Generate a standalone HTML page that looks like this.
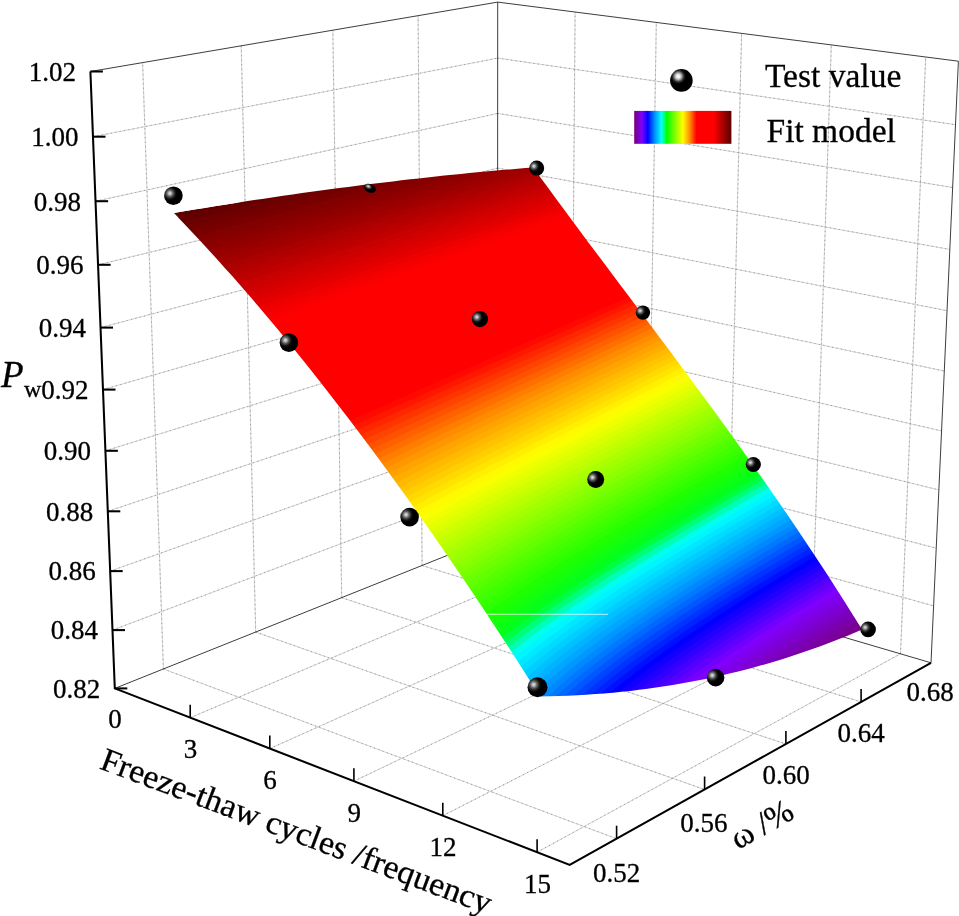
<!DOCTYPE html>
<html><head><meta charset="utf-8"><title>Fit model</title>
<style>
html,body{margin:0;padding:0;background:#fff}
svg{display:block}
.g{stroke:#cfcfcf;stroke-width:.9}
.h{stroke:#959595;stroke-width:.9;stroke-dasharray:1.2 3.3}
.e{stroke:#333;stroke-width:.95}
.a{stroke:#000;stroke-width:2.05;stroke-linejoin:miter}
.t{stroke:#000;stroke-width:1.6}
text{font-family:"Liberation Serif",serif;fill:#000;stroke:#000;stroke-width:.3px}
.n{font-size:27px}
.P{font-size:37px;font-style:italic}
.w{font-size:24px}
.ti{font-size:33px}
.lg{font-size:33.5px}
</style></head><body>
<svg width="959" height="916" viewBox="0 0 959 916">
<defs>
<radialGradient id="sg" cx=".31" cy=".37" r=".5"><stop offset="0" stop-color="#e6e6e6"/><stop offset=".14" stop-color="#bdbdbd"/><stop offset=".36" stop-color="#5a5a5a"/><stop offset=".6" stop-color="#141414"/><stop offset=".78" stop-color="#000"/><stop offset="1" stop-color="#000"/></radialGradient>
<radialGradient id="sgl" cx=".36" cy=".32" r=".6"><stop offset="0" stop-color="#fff"/><stop offset=".13" stop-color="#ededed"/><stop offset=".27" stop-color="#9a9a9a"/><stop offset=".42" stop-color="#2c2c2c"/><stop offset=".56" stop-color="#000"/><stop offset="1" stop-color="#000"/></radialGradient>
<linearGradient id="cb" x1="0" x2="1" y1="0" y2="0"><stop offset="0.000" stop-color="#78007a"/><stop offset="0.080" stop-color="#8000ff"/><stop offset="0.140" stop-color="#0000ff"/><stop offset="0.210" stop-color="#0090ff"/><stop offset="0.280" stop-color="#00ffff"/><stop offset="0.335" stop-color="#00ff00"/><stop offset="0.500" stop-color="#ffff00"/><stop offset="0.570" stop-color="#ff9000"/><stop offset="0.640" stop-color="#ff0000"/><stop offset="0.820" stop-color="#ff0000"/><stop offset="0.920" stop-color="#a00000"/><stop offset="1.000" stop-color="#5c0000"/></linearGradient>
</defs>
<rect width="959" height="916" fill="#fff"/>
<g><line x1="163.4" y1="669.0" x2="142.6" y2="62.6" class="g"/><line x1="163.4" y1="669.0" x2="616.6" y2="838.7" class="g"/><line x1="255.7" y1="632.1" x2="241.2" y2="45.8" class="g"/><line x1="255.7" y1="632.1" x2="704.6" y2="789.5" class="g"/><line x1="341.7" y1="597.7" x2="332.8" y2="30.2" class="g"/><line x1="341.7" y1="597.7" x2="785.9" y2="744.0" class="g"/><line x1="422.1" y1="565.5" x2="418.1" y2="15.7" class="g"/><line x1="422.1" y1="565.5" x2="861.1" y2="701.9" class="g"/><line x1="570.8" y1="556.9" x2="575.1" y2="12.0" class="g"/><line x1="190.2" y1="717.7" x2="570.8" y2="556.9" class="g"/><line x1="647.4" y1="579.4" x2="656.3" y2="22.5" class="g"/><line x1="269.8" y1="748.6" x2="647.4" y2="579.4" class="g"/><line x1="727.7" y1="603.0" x2="741.6" y2="33.4" class="g"/><line x1="353.9" y1="781.2" x2="727.7" y2="603.0" class="g"/><line x1="812.0" y1="627.8" x2="831.3" y2="44.9" class="g"/><line x1="442.8" y1="815.7" x2="812.0" y2="627.8" class="g"/><line x1="900.5" y1="653.8" x2="925.7" y2="57.0" class="g"/><line x1="537.1" y1="852.2" x2="900.5" y2="653.8" class="g"/><line x1="112.5" y1="630.1" x2="497.5" y2="484.5" class="g"/><line x1="497.5" y1="484.5" x2="933.6" y2="605.9" class="g"/><line x1="110.2" y1="571.1" x2="497.5" y2="433.2" class="g"/><line x1="497.5" y1="433.2" x2="936.2" y2="548.2" class="g"/><line x1="107.8" y1="511.3" x2="497.6" y2="381.3" class="g"/><line x1="497.6" y1="381.3" x2="938.8" y2="489.9" class="g"/><line x1="105.4" y1="450.8" x2="497.6" y2="328.8" class="g"/><line x1="497.6" y1="328.8" x2="941.5" y2="430.9" class="g"/><line x1="103.0" y1="389.6" x2="497.6" y2="275.8" class="g"/><line x1="497.6" y1="275.8" x2="944.3" y2="371.1" class="g"/><line x1="100.5" y1="327.6" x2="497.6" y2="222.3" class="g"/><line x1="497.6" y1="222.3" x2="947.0" y2="310.7" class="g"/><line x1="98.1" y1="264.8" x2="497.7" y2="168.1" class="g"/><line x1="497.7" y1="168.1" x2="949.8" y2="249.4" class="g"/><line x1="95.6" y1="201.2" x2="497.7" y2="113.4" class="g"/><line x1="497.7" y1="113.4" x2="952.6" y2="187.5" class="g"/><line x1="93.0" y1="136.7" x2="497.7" y2="58.1" class="g"/><line x1="497.7" y1="58.1" x2="955.5" y2="124.7" class="g"/><line x1="163.4" y1="669.0" x2="142.6" y2="62.6" class="h"/><line x1="163.4" y1="669.0" x2="616.6" y2="838.7" class="h"/><line x1="255.7" y1="632.1" x2="241.2" y2="45.8" class="h"/><line x1="255.7" y1="632.1" x2="704.6" y2="789.5" class="h"/><line x1="341.7" y1="597.7" x2="332.8" y2="30.2" class="h"/><line x1="341.7" y1="597.7" x2="785.9" y2="744.0" class="h"/><line x1="422.1" y1="565.5" x2="418.1" y2="15.7" class="h"/><line x1="422.1" y1="565.5" x2="861.1" y2="701.9" class="h"/><line x1="570.8" y1="556.9" x2="575.1" y2="12.0" class="h"/><line x1="190.2" y1="717.7" x2="570.8" y2="556.9" class="h"/><line x1="647.4" y1="579.4" x2="656.3" y2="22.5" class="h"/><line x1="269.8" y1="748.6" x2="647.4" y2="579.4" class="h"/><line x1="727.7" y1="603.0" x2="741.6" y2="33.4" class="h"/><line x1="353.9" y1="781.2" x2="727.7" y2="603.0" class="h"/><line x1="812.0" y1="627.8" x2="831.3" y2="44.9" class="h"/><line x1="442.8" y1="815.7" x2="812.0" y2="627.8" class="h"/><line x1="900.5" y1="653.8" x2="925.7" y2="57.0" class="h"/><line x1="537.1" y1="852.2" x2="900.5" y2="653.8" class="h"/><line x1="112.5" y1="630.1" x2="497.5" y2="484.5" class="h"/><line x1="497.5" y1="484.5" x2="933.6" y2="605.9" class="h"/><line x1="110.2" y1="571.1" x2="497.5" y2="433.2" class="h"/><line x1="497.5" y1="433.2" x2="936.2" y2="548.2" class="h"/><line x1="107.8" y1="511.3" x2="497.6" y2="381.3" class="h"/><line x1="497.6" y1="381.3" x2="938.8" y2="489.9" class="h"/><line x1="105.4" y1="450.8" x2="497.6" y2="328.8" class="h"/><line x1="497.6" y1="328.8" x2="941.5" y2="430.9" class="h"/><line x1="103.0" y1="389.6" x2="497.6" y2="275.8" class="h"/><line x1="497.6" y1="275.8" x2="944.3" y2="371.1" class="h"/><line x1="100.5" y1="327.6" x2="497.6" y2="222.3" class="h"/><line x1="497.6" y1="222.3" x2="947.0" y2="310.7" class="h"/><line x1="98.1" y1="264.8" x2="497.7" y2="168.1" class="h"/><line x1="497.7" y1="168.1" x2="949.8" y2="249.4" class="h"/><line x1="95.6" y1="201.2" x2="497.7" y2="113.4" class="h"/><line x1="497.7" y1="113.4" x2="952.6" y2="187.5" class="h"/><line x1="93.0" y1="136.7" x2="497.7" y2="58.1" class="h"/><line x1="497.7" y1="58.1" x2="955.5" y2="124.7" class="h"/></g>
<g><line x1="90.4" y1="71.5" x2="497.7" y2="2.1" class="e"/><line x1="497.7" y1="2.1" x2="958.4" y2="61.2" class="e"/><line x1="497.5" y1="535.3" x2="497.7" y2="2.1" class="e"/><line x1="931.0" y1="662.8" x2="958.4" y2="61.2" class="e"/><line x1="114.8" y1="688.4" x2="497.5" y2="535.3" class="e"/><line x1="497.5" y1="535.3" x2="931.0" y2="662.8" class="e"/></g>
<mask id="sc" maskUnits="userSpaceOnUse" x="0" y="0" width="959" height="916"><path fill="#fff" d="M173.8 213.0L184.1 211.3L194.4 209.6L204.5 207.9L214.6 206.3L224.6 204.7L234.5 203.2L244.4 201.6L254.2 200.1L263.9 198.7L273.5 197.2L283.1 195.8L292.6 194.5L302.0 193.1L311.4 191.8L320.7 190.5L329.9 189.3L339.1 188.1L348.2 186.9L357.2 185.7L366.2 184.6L375.1 183.5L384.0 182.4L392.8 181.4L401.5 180.3L410.2 179.3L418.8 178.4L427.3 177.4L435.8 176.5L444.2 175.6L452.6 174.8L460.9 173.9L469.2 173.1L477.4 172.3L485.5 171.5L493.6 170.8L501.7 170.1L509.6 169.4L517.6 168.7L525.4 168.1L533.3 167.5L541.0 178.2L548.8 188.8L556.6 199.5L564.4 210.1L572.3 220.7L580.1 231.3L588.0 241.9L596.0 252.5L603.9 263.1L611.9 273.7L619.9 284.4L627.9 295.1L635.9 305.8L644.0 316.5L652.1 327.3L660.2 338.2L668.4 349.1L676.5 360.0L684.7 371.1L692.9 382.2L701.2 393.4L709.4 404.6L717.7 416.0L726.1 427.5L734.4 439.1L742.7 450.7L751.1 462.6L759.5 474.5L768.0 486.5L776.4 498.7L784.9 511.1L793.4 523.6L801.9 536.2L810.4 549.0L819.0 562.0L827.6 575.1L836.2 588.5L844.8 602.0L853.4 615.7L862.1 629.5L855.1 632.5L848.2 635.4L841.1 638.3L834.0 641.1L826.9 643.8L819.7 646.5L812.5 649.1L805.2 651.6L797.9 654.1L790.5 656.6L783.0 658.9L775.5 661.2L768.0 663.4L760.4 665.6L752.7 667.7L745.0 669.8L737.2 671.7L729.4 673.6L721.5 675.5L713.5 677.2L705.5 678.9L697.4 680.5L689.3 682.1L681.1 683.6L672.8 685.0L664.4 686.3L656.0 687.6L647.6 688.7L639.0 689.8L630.4 690.9L621.7 691.8L612.9 692.7L604.1 693.4L595.1 694.1L586.1 694.7L577.1 695.3L567.9 695.7L558.7 696.1L549.4 696.3L540.0 696.5L530.1 681.0L520.3 665.6L510.5 650.3L500.7 635.3L491.0 620.5L481.3 605.8L471.6 591.3L462.0 577.0L452.4 562.9L442.8 549.0L433.3 535.3L423.8 521.7L414.4 508.3L405.0 495.1L395.6 482.1L386.3 469.2L377.0 456.6L367.7 444.1L358.5 431.8L349.3 419.6L340.2 407.7L331.1 395.9L322.0 384.3L313.0 372.8L304.0 361.6L295.1 350.5L286.1 339.5L277.3 328.8L268.4 318.2L259.6 307.8L250.9 297.6L242.2 287.5L233.5 277.6L224.8 267.9L216.2 258.3L207.7 249.0L199.2 239.7L190.7 230.7L182.2 221.8Z"/></mask>
<g mask="url(#sc)"><path d="M173.8 213.0L184.1 211.3L194.4 209.6L204.5 207.9L214.6 206.3L224.6 204.7L234.5 203.2L244.4 201.6L254.2 200.1L263.9 198.7L273.5 197.2L283.1 195.8L292.6 194.5L302.0 193.1L311.4 191.8L320.7 190.5L329.9 189.3L339.1 188.1L348.2 186.9L357.2 185.7L366.2 184.6L375.1 183.5L384.0 182.4L392.8 181.4L401.5 180.3L410.2 179.3L418.8 178.4L427.3 177.4L435.8 176.5L444.2 175.6L452.6 174.8L460.9 173.9L469.2 173.1L477.4 172.3L485.5 171.5L493.6 170.8L501.7 170.1L509.6 169.4L517.6 168.7L525.4 168.1L533.3 167.5L541.0 178.2L548.8 188.8L556.6 199.5L564.4 210.1L572.3 220.7L580.1 231.3L588.0 241.9L596.0 252.5L603.9 263.1L611.9 273.7L619.9 284.4L627.9 295.1L635.9 305.8L644.0 316.5L652.1 327.3L660.2 338.2L668.4 349.1L676.5 360.0L684.7 371.1L692.9 382.2L701.2 393.4L709.4 404.6L717.7 416.0L726.1 427.5L734.4 439.1L742.7 450.7L751.1 462.6L759.5 474.5L768.0 486.5L776.4 498.7L784.9 511.1L793.4 523.6L801.9 536.2L810.4 549.0L819.0 562.0L827.6 575.1L836.2 588.5L844.8 602.0L853.4 615.7L862.1 629.5L855.1 632.5L848.2 635.4L841.1 638.3L834.0 641.1L826.9 643.8L819.7 646.5L812.5 649.1L805.2 651.6L797.9 654.1L790.5 656.6L783.0 658.9L775.5 661.2L768.0 663.4L760.4 665.6L752.7 667.7L745.0 669.8L737.2 671.7L729.4 673.6L721.5 675.5L713.5 677.2L705.5 678.9L697.4 680.5L689.3 682.1L681.1 683.6L672.8 685.0L664.4 686.3L656.0 687.6L647.6 688.7L639.0 689.8L630.4 690.9L621.7 691.8L612.9 692.7L604.1 693.4L595.1 694.1L586.1 694.7L577.1 695.3L567.9 695.7L558.7 696.1L549.4 696.3L540.0 696.5L530.1 681.0L520.3 665.6L510.5 650.3L500.7 635.3L491.0 620.5L481.3 605.8L471.6 591.3L462.0 577.0L452.4 562.9L442.8 549.0L433.3 535.3L423.8 521.7L414.4 508.3L405.0 495.1L395.6 482.1L386.3 469.2L377.0 456.6L367.7 444.1L358.5 431.8L349.3 419.6L340.2 407.7L331.1 395.9L322.0 384.3L313.0 372.8L304.0 361.6L295.1 350.5L286.1 339.5L277.3 328.8L268.4 318.2L259.6 307.8L250.9 297.6L242.2 287.5L233.5 277.6L224.8 267.9L216.2 258.3L207.7 249.0L199.2 239.7L190.7 230.7L182.2 221.8Z" fill="#5c0000"/><path d="M154.7 223.3L179.0 217.3L202.8 211.3L226.1 205.5L248.9 199.7L271.2 194.1L293.1 188.6L314.5 183.1L335.6 177.8L356.2 172.6L376.5 167.4L396.3 162.4L415.9 157.4L435.0 152.5L453.9 147.7L472.4 143.0L490.6 138.4L508.5 133.8L527.3 131.2L1100.0 131.2L1100.0 1100.0L-100.0 1100.0L-100.0 223.3Z" fill="#660000"/><path d="M159.3 228.1L183.5 221.9L207.1 215.9L230.3 210.0L252.9 204.2L275.1 198.5L296.9 192.9L318.2 187.4L339.1 182.0L359.6 176.7L379.8 171.5L399.5 166.3L419.0 161.3L438.0 156.4L456.8 151.5L475.2 146.8L493.3 142.1L511.1 137.5L528.6 133.0L1100.0 133.0L1100.0 1100.0L-100.0 1100.0L-100.0 228.1Z" fill="#6d0000"/><path d="M163.9 232.8L187.9 226.6L211.4 220.5L234.4 214.5L257.0 208.6L279.0 202.9L300.7 197.2L321.9 191.6L342.7 186.2L363.1 180.8L383.1 175.5L402.8 170.4L422.1 165.3L441.0 160.3L459.7 155.4L478.0 150.6L496.0 145.8L513.7 141.2L531.1 136.6L1100.0 136.6L1100.0 1100.0L-100.0 1100.0L-100.0 232.8Z" fill="#730000"/><path d="M168.5 237.6L192.3 231.3L215.7 225.1L238.6 219.1L261.0 213.1L282.9 207.2L304.4 201.5L325.5 195.9L346.2 190.3L366.5 184.9L386.4 179.6L406.0 174.4L425.2 169.2L444.0 164.2L462.6 159.2L480.8 154.4L498.7 149.6L516.3 144.9L533.7 140.3L1100.0 140.3L1100.0 1100.0L-100.0 1100.0L-100.0 237.6Z" fill="#7a0000"/><path d="M173.0 242.4L196.7 236.0L220.0 229.7L242.7 223.6L265.0 217.6L286.8 211.6L308.2 205.8L329.2 200.1L349.7 194.5L369.9 189.1L389.7 183.7L409.2 178.4L428.3 173.2L447.0 168.1L465.5 163.1L483.6 158.2L501.4 153.3L519.0 148.6L536.2 143.9L1100.0 143.9L1100.0 1100.0L-100.0 1100.0L-100.0 242.4Z" fill="#810000"/><path d="M177.5 247.1L201.1 240.7L224.2 234.3L246.8 228.1L269.0 222.0L290.7 216.0L312.0 210.2L332.8 204.4L353.3 198.7L373.4 193.2L393.1 187.7L412.4 182.4L431.4 177.1L450.1 172.0L468.4 166.9L486.4 162.0L504.2 157.1L521.6 152.3L538.8 147.6L1100.0 147.6L1100.0 1100.0L-100.0 1100.0L-100.0 247.1Z" fill="#870000"/><path d="M181.9 251.9L205.4 245.4L228.4 238.9L250.9 232.7L273.0 226.5L294.6 220.4L315.7 214.5L336.5 208.7L356.8 202.9L376.8 197.3L396.4 191.8L415.6 186.4L434.5 181.1L453.1 175.9L471.3 170.8L489.3 165.8L506.9 160.9L524.3 156.0L541.4 151.3L1100.0 151.3L1100.0 1100.0L-100.0 1100.0L-100.0 251.9Z" fill="#8e0000"/><path d="M186.3 256.7L209.7 250.0L232.6 243.6L255.0 237.2L276.9 231.0L298.4 224.8L319.5 218.8L340.1 212.9L360.4 207.1L380.2 201.5L399.7 195.9L418.9 190.4L437.7 185.1L456.1 179.8L474.3 174.7L492.1 169.6L509.7 164.6L527.0 159.7L543.9 154.9L1100.0 154.9L1100.0 1100.0L-100.0 1100.0L-100.0 256.7Z" fill="#940000"/><path d="M190.7 261.4L214.0 254.7L236.8 248.2L259.1 241.7L280.9 235.4L302.3 229.2L323.2 223.2L343.8 217.2L363.9 211.4L383.7 205.6L403.1 200.0L422.1 194.5L440.8 189.1L459.2 183.8L477.2 178.5L495.0 173.4L512.5 168.4L529.6 163.5L546.5 158.6L1100.0 158.6L1100.0 1100.0L-100.0 1100.0L-100.0 261.4Z" fill="#9b0000"/><path d="M195.1 266.2L218.3 259.4L240.9 252.8L263.1 246.3L284.8 239.9L306.1 233.6L327.0 227.5L347.4 221.5L367.4 215.6L387.1 209.8L406.4 204.1L425.3 198.5L444.0 193.1L462.2 187.7L480.2 182.4L497.9 177.2L515.2 172.2L532.3 167.2L549.1 162.3L1100.0 162.3L1100.0 1100.0L-100.0 1100.0L-100.0 266.2Z" fill="#a20000"/><path d="M199.4 271.0L222.5 264.1L245.0 257.4L267.1 250.8L288.7 244.4L309.9 238.1L330.7 231.9L351.0 225.8L371.0 219.8L390.5 213.9L409.7 208.2L428.6 202.6L447.1 197.0L465.3 191.6L483.2 186.3L500.7 181.1L518.0 176.0L535.0 170.9L551.8 166.0L1100.0 166.0L1100.0 1100.0L-100.0 1100.0L-100.0 271.0Z" fill="#a90000"/><path d="M203.7 275.7L226.7 268.8L249.1 262.0L271.1 255.4L292.7 248.9L313.7 242.5L334.4 236.2L354.6 230.1L374.5 224.0L394.0 218.1L413.1 212.3L431.8 206.6L450.3 201.0L468.4 195.6L486.1 190.2L503.6 184.9L520.8 179.7L537.7 174.7L554.4 169.7L1100.0 169.7L1100.0 1100.0L-100.0 1100.0L-100.0 275.7Z" fill="#b10000"/><path d="M208.0 280.5L230.9 273.5L253.2 266.7L275.1 259.9L296.5 253.4L317.5 246.9L338.1 240.6L358.3 234.4L378.0 228.3L397.4 222.3L416.4 216.4L435.1 210.7L453.4 205.0L471.4 199.5L489.1 194.1L506.5 188.8L523.6 183.5L540.5 178.4L557.0 173.4L1100.0 173.4L1100.0 1100.0L-100.0 1100.0L-100.0 280.5Z" fill="#b80000"/><path d="M212.3 285.3L235.0 278.2L257.3 271.3L279.1 264.5L300.4 257.8L321.3 251.3L341.8 244.9L361.9 238.7L381.5 232.5L400.8 226.5L419.8 220.5L438.3 214.7L456.6 209.0L474.5 203.5L492.1 198.0L509.4 192.6L526.4 187.3L543.2 182.2L559.7 177.1L1100.0 177.1L1100.0 1100.0L-100.0 1100.0L-100.0 285.3Z" fill="#c00000"/><path d="M216.5 290.1L239.2 282.9L261.3 275.9L283.0 269.1L304.3 262.3L325.1 255.8L345.5 249.3L365.5 243.0L385.0 236.7L404.2 230.6L423.1 224.7L441.6 218.8L459.7 213.1L477.6 207.4L495.1 201.9L512.3 196.5L529.3 191.1L545.9 185.9L562.3 180.8L1100.0 180.8L1100.0 1100.0L-100.0 1100.0L-100.0 290.1Z" fill="#c70000"/><path d="M220.7 294.8L243.3 287.6L265.4 280.6L287.0 273.6L308.1 266.8L328.9 260.2L349.2 253.7L369.1 247.3L388.6 241.0L407.7 234.8L426.4 228.8L444.8 222.9L462.9 217.1L480.7 211.4L498.1 205.8L515.2 200.3L532.1 194.9L548.7 189.7L565.0 184.5L1100.0 184.5L1100.0 1100.0L-100.0 1100.0L-100.0 294.8Z" fill="#ce0000"/><path d="M224.9 299.6L247.4 292.3L269.4 285.2L290.9 278.2L312.0 271.3L332.6 264.6L352.8 258.0L372.6 251.6L392.1 245.2L411.1 239.0L429.8 232.9L448.1 227.0L466.1 221.1L483.7 215.4L501.1 209.7L518.2 204.2L534.9 198.8L551.4 193.4L567.7 188.2L1100.0 188.2L1100.0 1100.0L-100.0 1100.0L-100.0 299.6Z" fill="#d60000"/><path d="M229.0 304.4L251.4 297.0L273.3 289.8L294.8 282.8L315.8 275.8L336.4 269.1L356.5 262.4L376.2 255.9L395.6 249.5L414.5 243.2L433.1 237.1L451.3 231.0L469.3 225.1L486.8 219.3L504.1 213.6L521.1 208.1L537.8 202.6L554.2 197.2L570.4 191.9L1100.0 191.9L1100.0 1100.0L-100.0 1100.0L-100.0 304.4Z" fill="#dd0000"/><path d="M233.1 309.2L255.5 301.7L277.3 294.5L298.7 287.3L319.6 280.3L340.1 273.5L360.1 266.8L379.8 260.2L399.0 253.7L417.9 247.4L436.4 241.2L454.6 235.1L472.4 229.2L489.9 223.3L507.1 217.6L524.0 211.9L540.6 206.4L557.0 201.0L573.1 195.7L1100.0 195.7L1100.0 1100.0L-100.0 1100.0L-100.0 309.2Z" fill="#e50000"/><path d="M237.2 314.0L259.5 306.5L281.2 299.1L302.5 291.9L323.4 284.9L343.8 277.9L363.8 271.2L383.4 264.5L402.5 258.0L421.3 251.6L439.8 245.4L457.9 239.2L475.6 233.2L493.0 227.3L510.1 221.5L527.0 215.8L543.5 210.2L559.8 204.8L575.8 199.4L1100.0 199.4L1100.0 1100.0L-100.0 1100.0L-100.0 314.0Z" fill="#ec0000"/><path d="M241.3 318.7L263.5 311.2L285.2 303.8L306.4 296.5L327.2 289.4L347.5 282.4L367.4 275.6L386.9 268.8L406.0 262.3L424.7 255.8L443.1 249.5L461.1 243.3L478.8 237.2L496.1 231.3L513.2 225.4L529.9 219.7L546.4 214.1L562.6 208.5L578.5 203.1L1100.0 203.1L1100.0 1100.0L-100.0 1100.0L-100.0 318.7Z" fill="#f40000"/><path d="M245.4 323.5L267.5 315.9L289.1 308.4L310.2 301.1L330.9 293.9L351.2 286.8L371.0 279.9L390.4 273.2L409.5 266.5L428.1 260.0L446.4 253.7L464.4 247.4L482.0 241.3L499.2 235.3L516.2 229.4L532.9 223.6L549.2 217.9L565.4 212.3L581.2 206.9L1100.0 206.9L1100.0 1100.0L-100.0 1100.0L-100.0 323.5Z" fill="#fb0000"/><path d="M249.4 328.3L271.4 320.6L293.0 313.1L314.0 305.7L334.7 298.4L354.9 291.3L374.6 284.3L394.0 277.5L413.0 270.8L431.5 264.3L449.8 257.8L467.6 251.5L485.1 245.3L502.3 239.3L519.2 233.3L535.8 227.5L552.1 221.7L568.2 216.1L583.9 210.6L1100.0 210.6L1100.0 1100.0L-100.0 1100.0L-100.0 328.3Z" fill="#ff0000"/><path d="M253.5 333.1L275.4 325.3L296.8 317.7L317.8 310.2L338.4 302.9L358.5 295.8L378.2 288.7L397.5 281.8L416.4 275.1L434.9 268.5L453.1 262.0L470.9 255.6L488.3 249.4L505.5 243.3L522.3 237.3L538.8 231.4L555.0 225.6L571.0 219.9L586.7 214.4L1100.0 214.4L1100.0 1100.0L-100.0 1100.0L-100.0 333.1Z" fill="#ff0000"/><path d="M257.5 337.9L279.3 330.1L300.7 322.4L321.6 314.8L342.1 307.4L362.2 300.2L381.8 293.1L401.0 286.2L419.9 279.4L438.3 272.7L456.4 266.2L474.1 259.7L491.5 253.4L508.6 247.3L525.3 241.2L541.8 235.3L557.9 229.4L573.8 223.7L589.4 218.1L1100.0 218.1L1100.0 1100.0L-100.0 1100.0L-100.0 337.9Z" fill="#ff0000"/><path d="M261.4 342.7L283.2 334.8L304.5 327.0L325.4 319.4L345.8 312.0L365.8 304.7L385.4 297.5L404.5 290.5L423.3 283.7L441.7 276.9L459.7 270.3L477.4 263.9L494.7 257.5L511.7 251.3L528.4 245.2L544.7 239.2L560.8 233.3L576.6 227.5L592.2 221.9L1100.0 221.9L1100.0 1100.0L-100.0 1100.0L-100.0 342.7Z" fill="#ff0000"/><path d="M265.4 347.5L287.1 339.5L308.4 331.7L329.2 324.0L349.5 316.5L369.4 309.1L388.9 301.9L408.0 294.9L426.7 288.0L445.1 281.2L463.0 274.5L480.6 268.0L497.9 261.6L514.8 255.3L531.4 249.1L547.7 243.1L563.7 237.2L579.5 231.4L594.9 225.6L1100.0 225.6L1100.0 1100.0L-100.0 1100.0L-100.0 347.5Z" fill="#ff0000"/><path d="M269.3 352.3L291.0 344.2L312.2 336.3L332.9 328.6L353.2 321.0L373.0 313.6L392.5 306.3L411.5 299.2L430.2 292.2L448.4 285.4L466.3 278.7L483.9 272.1L501.1 265.6L517.9 259.3L534.5 253.1L550.7 247.0L566.6 241.0L582.3 235.2L597.7 229.4L1100.0 229.4L1100.0 1100.0L-100.0 1100.0L-100.0 352.3Z" fill="#ff0000"/><path d="M273.3 357.1L294.8 349.0L315.9 341.0L336.6 333.2L356.8 325.6L376.6 318.1L396.0 310.8L415.0 303.6L433.6 296.5L451.8 289.6L469.6 282.9L487.1 276.2L504.2 269.7L521.0 263.3L537.5 257.1L553.7 250.9L569.6 244.9L585.2 239.0L600.5 233.2L1100.0 233.2L1100.0 1100.0L-100.0 1100.0L-100.0 357.1Z" fill="#ff0000"/><path d="M277.2 361.9L298.7 353.7L319.7 345.7L340.3 337.8L360.5 330.1L380.2 322.6L399.6 315.2L418.5 307.9L437.0 300.8L455.2 293.9L472.9 287.1L490.3 280.4L507.4 273.8L524.1 267.4L540.6 261.1L556.7 254.9L572.5 248.8L588.0 242.8L603.3 237.0L1100.0 237.0L1100.0 1100.0L-100.0 1100.0L-100.0 361.9Z" fill="#ff0000"/><path d="M281.1 366.7L302.5 358.4L323.5 350.3L344.0 342.4L364.1 334.6L383.8 327.0L403.1 319.6L421.9 312.3L440.4 305.1L458.5 298.1L476.2 291.2L493.6 284.5L510.6 277.9L527.3 271.4L543.6 265.0L559.7 258.8L575.4 252.7L590.9 246.7L606.1 240.8L1100.0 240.8L1100.0 1100.0L-100.0 1100.0L-100.0 366.7Z" fill="#ff0000"/><path d="M285.0 371.5L306.3 363.2L327.2 355.0L347.7 347.0L367.7 339.2L387.4 331.5L406.6 324.0L425.4 316.7L443.8 309.4L461.8 302.4L479.5 295.4L496.8 288.6L513.8 282.0L530.4 275.4L546.7 269.0L562.7 262.7L578.4 256.6L593.8 250.5L608.9 244.6L1100.0 244.6L1100.0 1100.0L-100.0 1100.0L-100.0 371.5Z" fill="#ff0000"/><path d="M288.8 376.4L310.1 367.9L330.9 359.7L351.3 351.6L371.3 343.7L390.9 336.0L410.1 328.4L428.8 321.0L447.2 313.8L465.2 306.6L482.8 299.6L500.0 292.8L516.9 286.1L533.5 279.5L549.7 273.0L565.7 266.7L581.3 260.4L596.6 254.3L611.7 248.3L1100.0 248.3L1100.0 1100.0L-100.0 1100.0L-100.0 376.4Z" fill="#ff0000"/><path d="M292.7 381.2L313.9 372.7L334.6 364.4L355.0 356.2L374.9 348.3L394.4 340.5L413.6 332.9L432.3 325.4L450.6 318.1L468.5 310.9L486.1 303.8L503.3 296.9L520.1 290.2L536.6 283.5L552.8 277.0L568.7 270.6L584.2 264.3L599.5 258.2L614.5 252.1L1100.0 252.1L1100.0 1100.0L-100.0 1100.0L-100.0 381.2Z" fill="#ff0000"/><path d="M296.5 386.0L317.6 377.4L338.3 369.0L358.6 360.8L378.5 352.8L398.0 345.0L417.0 337.3L435.7 329.8L453.9 322.4L471.8 315.1L489.3 308.0L506.5 301.1L523.3 294.3L539.7 287.6L555.9 281.0L571.7 274.6L587.2 268.2L602.4 262.0L617.4 256.0L1100.0 256.0L1100.0 1100.0L-100.0 1100.0L-100.0 386.0Z" fill="#ff0000"/><path d="M300.3 390.8L321.4 382.2L342.0 373.7L362.2 365.4L382.1 357.4L401.5 349.5L420.5 341.7L439.1 334.1L457.3 326.7L475.1 319.4L492.6 312.3L509.7 305.2L526.4 298.4L542.8 291.6L558.9 285.0L574.7 278.5L590.1 272.2L605.3 265.9L620.2 259.8L1100.0 259.8L1100.0 1100.0L-100.0 1100.0L-100.0 390.8Z" fill="#ff0000"/><path d="M304.1 395.6L325.1 386.9L345.7 378.4L365.8 370.1L385.6 361.9L405.0 353.9L423.9 346.1L442.5 338.5L460.6 331.0L478.4 323.7L495.8 316.5L512.9 309.4L529.6 302.5L546.0 295.7L562.0 289.0L577.7 282.5L593.1 276.1L608.2 269.8L623.0 263.6L1100.0 263.6L1100.0 1100.0L-100.0 1100.0L-100.0 395.6Z" fill="#ff0000"/><path d="M307.9 400.5L328.8 391.7L349.3 383.1L369.4 374.7L389.1 366.5L408.4 358.4L427.4 350.6L445.9 342.9L464.0 335.3L481.7 327.9L499.1 320.7L516.1 313.6L532.8 306.6L549.1 299.7L565.0 293.0L580.7 286.4L596.0 280.0L611.1 273.6L625.9 267.4L1100.0 267.4L1100.0 1100.0L-100.0 1100.0L-100.0 400.5Z" fill="#ff0000"/><path d="M311.7 405.3L332.5 396.4L353.0 387.8L373.0 379.3L392.7 371.0L411.9 362.9L430.8 355.0L449.2 347.3L467.3 339.7L485.0 332.2L502.3 324.9L519.3 317.7L535.9 310.7L552.2 303.8L568.1 297.0L583.7 290.4L599.0 283.9L614.0 277.5L628.7 271.2L1100.0 271.2L1100.0 1100.0L-100.0 1100.0L-100.0 405.3Z" fill="#ff0000"/><path d="M315.4 410.1L336.2 401.2L356.6 392.4L376.6 383.9L396.2 375.6L415.4 367.4L434.2 359.5L452.6 351.6L470.6 344.0L488.3 336.5L505.6 329.1L522.5 321.9L539.1 314.8L555.3 307.9L571.2 301.1L586.7 294.4L602.0 287.8L616.9 281.4L631.6 275.1L1100.0 275.1L1100.0 1100.0L-100.0 1100.0L-100.0 410.1Z" fill="#ff0000"/><path d="M319.2 415.0L339.9 405.9L360.2 397.1L380.1 388.5L399.7 380.1L418.8 371.9L437.6 363.9L456.0 356.0L473.9 348.3L491.6 340.8L508.8 333.3L525.7 326.1L542.2 318.9L558.4 312.0L574.2 305.1L589.7 298.4L604.9 291.7L619.8 285.3L634.4 278.9L1100.0 278.9L1100.0 1100.0L-100.0 1100.0L-100.0 415.0Z" fill="#ff0000"/><path d="M322.9 419.8L343.5 410.7L363.8 401.8L383.6 393.2L403.1 384.7L422.2 376.4L441.0 368.3L459.3 360.4L477.2 352.6L494.8 345.0L512.0 337.6L528.9 330.3L545.3 323.1L561.5 316.0L577.3 309.1L592.7 302.3L607.9 295.7L622.7 289.1L637.3 282.7L1100.0 282.7L1100.0 1100.0L-100.0 1100.0L-100.0 419.8Z" fill="#ff0000"/><path d="M326.6 424.6L347.2 415.5L367.3 406.5L387.2 397.8L406.6 389.3L425.7 380.9L444.3 372.8L462.6 364.8L480.5 357.0L498.1 349.3L515.2 341.8L532.0 334.4L548.5 327.2L564.6 320.1L580.3 313.1L595.8 306.3L610.9 299.6L625.7 293.0L640.2 286.6L1100.0 286.6L1100.0 1100.0L-100.0 1100.0L-100.0 424.6Z" fill="#ff0000"/><path d="M330.3 429.5L350.8 420.2L370.9 411.2L390.7 402.4L410.1 393.8L429.1 385.4L447.7 377.2L465.9 369.2L483.8 361.3L501.3 353.6L518.4 346.0L535.2 338.6L551.6 331.3L567.7 324.2L583.4 317.2L598.8 310.3L613.8 303.6L628.6 296.9L643.1 290.4L1100.0 290.4L1100.0 1100.0L-100.0 1100.0L-100.0 429.5Z" fill="#ff0900"/><path d="M334.0 434.3L354.4 425.0L374.5 415.9L394.2 407.1L413.5 398.4L432.5 389.9L451.0 381.7L469.2 373.6L487.1 365.6L504.5 357.9L521.6 350.3L538.4 342.8L554.7 335.5L570.8 328.3L586.4 321.2L601.8 314.3L616.8 307.5L631.5 300.8L645.9 294.3L1100.0 294.3L1100.0 1100.0L-100.0 1100.0L-100.0 434.3Z" fill="#ff1700"/><path d="M337.7 439.2L358.0 429.8L378.0 420.6L397.6 411.7L416.9 403.0L435.8 394.5L454.4 386.1L472.5 378.0L490.3 370.0L507.8 362.2L524.8 354.5L541.5 347.0L557.9 339.6L573.8 332.4L589.5 325.3L604.8 318.3L619.8 311.4L634.5 304.7L648.8 298.1L1100.0 298.1L1100.0 1100.0L-100.0 1100.0L-100.0 439.2Z" fill="#ff2600"/><path d="M341.3 444.0L361.6 434.5L381.5 425.3L401.1 416.3L420.3 407.5L439.2 399.0L457.7 390.6L475.8 382.4L493.6 374.3L511.0 366.5L528.0 358.7L544.7 351.2L561.0 343.7L576.9 336.5L592.5 329.3L607.8 322.3L622.8 315.4L637.4 308.6L651.7 302.0L1100.0 302.0L1100.0 1100.0L-100.0 1100.0L-100.0 444.0Z" fill="#ff3500"/><path d="M345.0 448.9L365.2 439.3L385.0 430.0L404.6 421.0L423.7 412.1L442.5 403.5L461.0 395.0L479.1 386.8L496.8 378.7L514.2 370.7L531.2 363.0L547.8 355.4L564.1 347.9L580.0 340.6L595.6 333.4L610.8 326.3L625.7 319.4L640.3 312.5L654.6 305.9L1100.0 305.9L1100.0 1100.0L-100.0 1100.0L-100.0 448.9Z" fill="#ff4300"/><path d="M348.6 453.7L368.7 444.1L388.5 434.7L408.0 425.6L427.1 416.7L445.9 408.0L464.3 399.5L482.4 391.2L500.0 383.0L517.4 375.0L534.3 367.2L550.9 359.6L567.2 352.0L583.1 344.6L598.6 337.4L613.8 330.3L628.7 323.3L643.3 316.5L657.5 309.7L1100.0 309.7L1100.0 1100.0L-100.0 1100.0L-100.0 453.7Z" fill="#ff5200"/><path d="M352.3 458.6L372.3 448.9L392.0 439.4L411.4 430.2L430.5 421.3L449.2 412.5L467.6 403.9L485.6 395.6L503.3 387.4L520.6 379.3L537.5 371.5L554.1 363.7L570.3 356.2L586.1 348.7L601.7 341.5L616.8 334.3L631.7 327.3L646.2 320.4L660.4 313.6L1100.0 313.6L1100.0 1100.0L-100.0 1100.0L-100.0 458.6Z" fill="#ff6000"/><path d="M355.9 463.4L375.8 453.7L395.5 444.2L414.8 434.9L433.8 425.9L452.5 417.0L470.9 408.4L488.8 400.0L506.5 391.7L523.7 383.6L540.6 375.7L557.2 367.9L573.4 360.3L589.2 352.9L604.7 345.5L619.8 338.3L634.7 331.2L649.1 324.3L663.3 317.5L1100.0 317.5L1100.0 1100.0L-100.0 1100.0L-100.0 463.4Z" fill="#ff6f00"/><path d="M359.5 468.3L379.3 458.4L398.9 448.9L418.2 439.5L437.2 430.4L455.8 421.5L474.1 412.9L492.1 404.4L509.7 396.1L526.9 387.9L543.8 380.0L560.3 372.1L576.4 364.5L592.3 357.0L607.7 349.6L622.8 342.3L637.6 335.2L652.1 328.2L666.2 321.4L1100.0 321.4L1100.0 1100.0L-100.0 1100.0L-100.0 468.3Z" fill="#ff7e00"/><path d="M363.1 473.2L382.9 463.2L402.4 453.6L421.6 444.2L440.5 435.0L459.1 426.1L477.4 417.3L495.3 408.8L512.8 400.4L530.0 392.2L546.9 384.2L563.4 376.3L579.5 368.6L595.3 361.1L610.7 353.6L625.8 346.3L640.6 339.2L655.0 332.2L669.1 325.2L1100.0 325.2L1100.0 1100.0L-100.0 1100.0L-100.0 473.2Z" fill="#ff8c00"/><path d="M366.7 478.0L386.4 468.0L405.8 458.3L425.0 448.8L443.9 439.6L462.4 430.6L480.6 421.8L498.5 413.2L516.0 404.8L533.2 396.5L550.0 388.5L566.5 380.6L582.6 372.8L598.3 365.2L613.8 357.7L628.8 350.4L643.6 343.2L658.0 336.1L672.1 329.1L1100.0 329.1L1100.0 1100.0L-100.0 1100.0L-100.0 478.0Z" fill="#ff9800"/><path d="M370.2 482.9L389.9 472.8L409.2 463.0L428.3 453.5L447.2 444.2L465.7 435.1L483.8 426.3L501.7 417.6L519.2 409.1L536.3 400.8L553.1 392.7L569.5 384.8L585.6 377.0L601.4 369.3L616.8 361.8L631.8 354.4L646.5 347.1L660.9 340.0L675.0 333.0L1100.0 333.0L1100.0 1100.0L-100.0 1100.0L-100.0 482.9Z" fill="#ffa300"/><path d="M373.8 487.8L393.3 477.6L412.7 467.7L431.7 458.1L450.5 448.8L468.9 439.6L487.0 430.7L504.8 422.0L522.3 413.5L539.4 405.1L556.2 397.0L572.6 389.0L588.7 381.1L604.4 373.4L619.8 365.9L634.8 358.4L649.5 351.1L663.9 344.0L677.9 336.9L1100.0 336.9L1100.0 1100.0L-100.0 1100.0L-100.0 487.8Z" fill="#ffae00"/><path d="M377.4 492.6L396.8 482.4L416.1 472.5L435.0 462.8L453.7 453.4L472.1 444.2L490.2 435.2L508.0 426.4L525.4 417.8L542.5 409.5L559.3 401.2L575.7 393.2L591.7 385.3L607.4 377.5L622.8 369.9L637.8 362.5L652.5 355.1L666.8 347.9L680.8 340.8L1100.0 340.8L1100.0 1100.0L-100.0 1100.0L-100.0 492.6Z" fill="#ffb900"/><path d="M380.9 497.5L400.3 487.2L419.4 477.2L438.4 467.4L457.0 457.9L475.4 448.7L493.4 439.7L511.2 430.8L528.6 422.2L545.6 413.8L562.4 405.5L578.7 397.4L594.8 389.4L610.5 381.7L625.8 374.0L640.8 366.5L655.4 359.1L669.8 351.9L683.7 344.7L1100.0 344.7L1100.0 1100.0L-100.0 1100.0L-100.0 497.5Z" fill="#ffc300"/><path d="M384.4 502.4L403.7 492.0L422.8 481.9L441.7 472.1L460.3 462.5L478.6 453.2L496.6 444.1L514.3 435.3L531.7 426.6L548.7 418.1L565.4 409.8L581.8 401.6L597.8 393.6L613.5 385.8L628.8 378.1L643.8 370.5L658.4 363.1L672.7 355.8L686.7 348.7L1100.0 348.7L1100.0 1100.0L-100.0 1100.0L-100.0 502.4Z" fill="#ffce00"/><path d="M388.0 507.3L407.2 496.8L426.2 486.6L445.0 476.7L463.5 467.1L481.8 457.8L499.8 448.6L517.4 439.7L534.8 430.9L551.8 422.4L568.5 414.0L584.8 405.8L600.8 397.8L616.5 389.9L631.8 382.2L646.7 374.6L661.4 367.1L675.7 359.8L689.6 352.6L1100.0 352.6L1100.0 1100.0L-100.0 1100.0L-100.0 507.3Z" fill="#ffd900"/><path d="M391.5 512.2L410.6 501.6L429.5 491.4L448.3 481.4L466.8 471.7L485.0 462.3L502.9 453.1L520.6 444.1L537.9 435.3L554.9 426.7L571.5 418.3L587.8 410.0L603.8 402.0L619.5 394.0L634.8 386.3L649.7 378.6L664.3 371.1L678.6 363.7L692.5 356.5L1100.0 356.5L1100.0 1100.0L-100.0 1100.0L-100.0 512.2Z" fill="#ffe400"/><path d="M395.0 517.1L414.0 506.4L432.9 496.1L451.5 486.1L470.0 476.3L488.2 466.8L506.1 457.6L523.7 448.5L540.9 439.7L557.9 431.0L574.6 422.6L590.9 414.3L606.8 406.1L622.5 398.2L637.7 390.3L652.7 382.7L667.3 375.1L681.5 367.7L695.5 360.4L1100.0 360.4L1100.0 1100.0L-100.0 1100.0L-100.0 517.1Z" fill="#ffef00"/><path d="M398.5 522.0L417.4 511.2L436.2 500.8L454.8 490.7L473.2 480.9L491.3 471.4L509.2 462.0L526.8 452.9L544.0 444.0L561.0 435.3L577.6 426.8L593.9 418.5L609.8 410.3L625.4 402.3L640.7 394.4L655.6 386.7L670.2 379.1L684.5 371.7L698.4 364.3L1100.0 364.3L1100.0 1100.0L-100.0 1100.0L-100.0 522.0Z" fill="#fffa00"/><path d="M402.0 526.9L420.8 516.0L439.5 505.6L458.1 495.4L476.4 485.5L494.5 475.9L512.3 466.5L529.8 457.3L547.1 448.4L564.0 439.7L580.6 431.1L596.9 422.7L612.8 414.5L628.4 406.4L643.7 398.5L658.6 390.8L673.2 383.1L687.4 375.6L701.3 368.3L1100.0 368.3L1100.0 1100.0L-100.0 1100.0L-100.0 526.9Z" fill="#faff00"/><path d="M405.4 531.8L424.2 520.9L442.8 510.3L461.3 500.1L479.6 490.1L497.6 480.4L515.4 471.0L532.9 461.8L550.1 452.8L567.0 444.0L583.6 435.4L599.9 426.9L615.8 418.7L631.4 410.6L646.6 402.6L661.6 394.8L676.1 387.1L690.4 379.6L704.2 372.2L1100.0 372.2L1100.0 1100.0L-100.0 1100.0L-100.0 531.8Z" fill="#efff00"/><path d="M408.9 536.7L427.6 525.7L446.1 515.0L464.5 504.7L482.8 494.7L500.7 485.0L518.5 475.5L536.0 466.2L553.1 457.1L570.0 448.3L586.6 439.6L602.8 431.2L618.8 422.8L634.3 414.7L649.6 406.7L664.5 398.9L679.1 391.2L693.3 383.6L707.2 376.1L1100.0 376.1L1100.0 1100.0L-100.0 1100.0L-100.0 536.7Z" fill="#e4ff00"/><path d="M412.4 541.6L430.9 530.5L449.4 519.8L467.8 509.4L485.9 499.3L503.9 489.5L521.6 479.9L539.0 470.6L556.2 461.5L573.0 452.6L589.6 443.9L605.8 435.4L621.7 427.0L637.3 418.8L652.5 410.8L667.4 402.9L682.0 395.2L696.2 387.6L710.1 380.1L1100.0 380.1L1100.0 1100.0L-100.0 1100.0L-100.0 541.6Z" fill="#d9ff00"/><path d="M415.8 546.5L434.3 535.3L452.7 524.5L471.0 514.1L489.1 503.9L507.0 494.0L524.6 484.4L542.0 475.0L559.2 465.9L576.0 456.9L592.5 448.2L608.8 439.6L624.7 431.2L640.2 423.0L655.5 414.9L670.4 407.0L684.9 399.2L699.1 391.5L713.0 384.0L1100.0 384.0L1100.0 1100.0L-100.0 1100.0L-100.0 546.5Z" fill="#ceff00"/><path d="M419.3 551.4L437.6 540.1L455.9 529.3L474.2 518.7L492.2 508.5L510.1 498.6L527.7 488.9L545.1 479.5L562.2 470.3L579.0 461.3L595.5 452.5L611.7 443.8L627.6 435.4L643.2 427.1L658.4 419.0L673.3 411.0L687.9 403.2L702.1 395.5L715.9 388.0L1100.0 388.0L1100.0 1100.0L-100.0 1100.0L-100.0 551.4Z" fill="#c3ff00"/><path d="M422.7 556.3L441.0 545.0L459.2 534.0L477.3 523.4L495.3 513.1L513.1 503.1L530.7 493.4L548.1 483.9L565.2 474.6L582.0 465.6L598.5 456.7L614.7 448.1L630.5 439.6L646.1 431.3L661.3 423.1L676.2 415.1L690.8 407.2L705.0 399.5L718.9 391.9L1100.0 391.9L1100.0 1100.0L-100.0 1100.0L-100.0 556.3Z" fill="#b8ff00"/><path d="M426.1 561.2L444.3 549.8L462.4 538.8L480.5 528.1L498.5 517.7L516.2 507.7L533.8 497.9L551.1 488.3L568.1 479.0L584.9 469.9L601.4 461.0L617.6 452.3L633.5 443.8L649.0 435.4L664.2 427.2L679.1 419.2L693.7 411.3L707.9 403.5L721.8 395.9L1100.0 395.9L1100.0 1100.0L-100.0 1100.0L-100.0 561.2Z" fill="#adff00"/><path d="M429.5 566.1L447.6 554.6L465.7 543.5L483.7 532.8L501.6 522.3L519.3 512.2L536.8 502.4L554.1 492.8L571.1 483.4L587.9 474.2L604.3 465.3L620.5 456.5L636.4 448.0L651.9 439.6L667.2 431.3L682.1 423.2L696.6 415.3L710.8 407.5L724.7 399.8L1100.0 399.8L1100.0 1100.0L-100.0 1100.0L-100.0 566.1Z" fill="#a2ff00"/><path d="M433.0 571.0L450.9 559.4L468.9 548.3L486.8 537.4L504.7 526.9L522.3 516.8L539.8 506.8L557.0 497.2L574.0 487.8L590.8 478.6L607.2 469.6L623.4 460.8L639.3 452.2L654.8 443.7L670.1 435.4L685.0 427.3L699.5 419.3L713.8 411.5L727.6 403.8L1100.0 403.8L1100.0 1100.0L-100.0 1100.0L-100.0 571.0Z" fill="#98ff00"/><path d="M436.4 576.0L454.2 564.3L472.1 553.0L490.0 542.1L507.7 531.6L525.4 521.3L542.8 511.3L560.0 501.6L577.0 492.1L593.7 482.9L610.2 473.8L626.3 465.0L642.2 456.3L657.7 447.9L672.9 439.5L687.9 431.4L702.4 423.4L716.7 415.5L730.6 407.8L1100.0 407.8L1100.0 1100.0L-100.0 1100.0L-100.0 576.0Z" fill="#8dff00"/><path d="M439.8 580.9L457.5 569.1L475.3 557.8L493.1 546.8L510.8 536.2L528.4 525.8L545.8 515.8L563.0 506.0L579.9 496.5L596.6 487.2L613.0 478.1L629.2 469.2L645.1 460.5L660.6 452.0L675.8 443.7L690.7 435.5L705.3 427.4L719.6 419.5L733.5 411.7L1100.0 411.7L1100.0 1100.0L-100.0 1100.0L-100.0 580.9Z" fill="#82ff00"/><path d="M443.1 585.8L460.8 574.0L478.5 562.5L496.2 551.5L513.9 540.8L531.4 530.4L548.8 520.3L565.9 510.5L582.8 500.9L599.5 491.5L615.9 482.4L632.1 473.5L647.9 464.7L663.5 456.2L678.7 447.8L693.6 439.5L708.2 431.4L722.5 423.5L736.4 415.7L1100.0 415.7L1100.0 1100.0L-100.0 1100.0L-100.0 585.8Z" fill="#77ff00"/><path d="M446.5 590.8L464.1 578.8L481.7 567.3L499.4 556.2L516.9 545.4L534.4 534.9L551.7 524.8L568.8 514.9L585.7 505.3L602.4 495.9L618.8 486.7L634.9 477.7L650.8 468.9L666.3 460.3L681.6 451.9L696.5 443.6L711.1 435.5L725.4 427.5L739.3 419.7L1100.0 419.7L1100.0 1100.0L-100.0 1100.0L-100.0 590.8Z" fill="#6cff00"/><path d="M449.9 595.7L467.3 583.6L484.9 572.0L502.5 560.8L520.0 550.0L537.4 539.5L554.7 529.3L571.8 519.3L588.6 509.7L605.3 500.2L621.7 491.0L637.8 482.0L653.6 473.1L669.2 464.5L684.4 456.0L699.4 447.7L714.0 439.5L728.3 431.5L742.2 423.6L1100.0 423.6L1100.0 1100.0L-100.0 1100.0L-100.0 595.7Z" fill="#61ff00"/><path d="M453.3 600.6L470.6 588.5L488.0 576.8L505.5 565.5L523.0 554.6L540.4 544.0L557.6 533.8L574.7 523.8L591.5 514.0L608.1 504.5L624.5 495.3L640.6 486.2L656.5 477.3L672.0 468.6L687.3 460.1L702.2 451.8L716.8 443.6L731.1 435.5L745.1 427.6L1100.0 427.6L1100.0 1100.0L-100.0 1100.0L-100.0 600.6Z" fill="#56ff00"/><path d="M456.6 605.6L473.8 593.3L491.2 581.6L508.6 570.2L526.0 559.2L543.3 548.6L560.5 538.3L577.6 528.2L594.4 518.4L611.0 508.9L627.4 499.5L643.5 490.4L659.3 481.5L674.9 472.8L690.1 464.2L705.1 455.9L719.7 447.6L734.0 439.5L748.0 431.6L1100.0 431.6L1100.0 1100.0L-100.0 1100.0L-100.0 605.6Z" fill="#4bff00"/><path d="M460.0 610.5L477.1 598.2L494.3 586.3L511.7 574.9L529.0 563.8L546.3 553.1L563.5 542.7L580.4 532.6L597.3 522.8L613.8 513.2L630.2 503.8L646.3 494.7L662.1 485.7L677.7 477.0L693.0 468.4L707.9 459.9L722.6 451.7L736.9 443.6L750.9 435.6L1100.0 435.6L1100.0 1100.0L-100.0 1100.0L-100.0 610.5Z" fill="#40ff00"/><path d="M463.3 615.5L480.3 603.0L497.5 591.1L514.8 579.6L532.0 568.5L549.2 557.7L566.4 547.2L583.3 537.1L600.1 527.2L616.7 517.5L633.0 508.1L649.1 498.9L665.0 489.9L680.5 481.1L695.8 472.5L710.8 464.0L725.4 455.7L739.8 447.6L753.8 439.6L1100.0 439.6L1100.0 1100.0L-100.0 1100.0L-100.0 615.5Z" fill="#36ff00"/><path d="M466.7 620.4L483.5 607.9L500.6 595.9L517.8 584.3L535.0 573.1L552.2 562.2L569.3 551.7L586.2 541.5L602.9 531.6L619.5 521.9L635.8 512.4L651.9 503.2L667.8 494.1L683.3 485.3L698.6 476.6L713.6 468.1L728.3 459.8L742.6 451.6L756.7 443.5L1100.0 443.5L1100.0 1100.0L-100.0 1100.0L-100.0 620.4Z" fill="#2bff00"/><path d="M470.0 625.4L486.7 612.7L503.7 600.6L520.8 589.0L538.0 577.7L555.1 566.8L572.1 556.2L589.0 545.9L605.8 535.9L622.3 526.2L638.6 516.7L654.7 507.4L670.5 498.3L686.1 489.4L701.4 480.7L716.4 472.2L731.1 463.8L745.5 455.6L759.6 447.5L1100.0 447.5L1100.0 1100.0L-100.0 1100.0L-100.0 625.4Z" fill="#20ff00"/><path d="M473.3 630.3L489.9 617.6L506.8 605.4L523.9 593.6L541.0 582.3L558.0 571.3L575.0 560.7L591.9 550.4L608.6 540.3L625.1 530.5L641.4 521.0L657.5 511.6L673.3 502.5L688.9 493.6L704.2 484.9L719.2 476.3L733.9 467.9L748.3 459.6L762.4 451.5L1100.0 451.5L1100.0 1100.0L-100.0 1100.0L-100.0 630.3Z" fill="#19ff07"/><path d="M476.6 635.3L493.1 622.4L509.9 610.2L526.9 598.3L543.9 586.9L560.9 575.9L577.9 565.2L594.7 554.8L611.4 544.7L627.9 534.9L644.2 525.3L660.3 515.9L676.1 506.7L691.7 497.8L707.0 489.0L722.0 480.4L736.8 471.9L751.2 463.7L765.3 455.5L1100.0 455.5L1100.0 1100.0L-100.0 1100.0L-100.0 635.3Z" fill="#12ff0e"/><path d="M480.0 640.2L496.3 627.3L513.0 614.9L529.9 603.0L546.9 591.6L563.8 580.5L580.7 569.7L597.5 559.3L614.2 549.1L630.7 539.2L647.0 529.6L663.0 520.1L678.9 510.9L694.5 501.9L709.8 493.1L724.8 484.5L739.6 476.0L754.0 467.7L768.2 459.5L1100.0 459.5L1100.0 1100.0L-100.0 1100.0L-100.0 640.2Z" fill="#0aff16"/><path d="M483.3 645.2L499.5 632.2L516.1 619.7L532.9 607.7L549.8 596.2L566.7 585.0L583.6 574.2L600.3 563.7L617.0 553.5L633.4 543.5L649.7 533.8L665.8 524.4L681.6 515.1L697.2 506.1L712.5 497.2L727.6 488.6L742.4 480.1L756.9 471.7L771.0 463.5L1100.0 463.5L1100.0 1100.0L-100.0 1100.0L-100.0 645.2Z" fill="#03ff1d"/><path d="M486.6 650.2L502.7 637.0L519.2 624.5L535.9 612.4L552.7 600.8L569.6 589.6L586.4 578.7L603.1 568.1L619.7 557.9L636.2 547.9L652.5 538.1L668.5 528.6L684.4 519.3L700.0 510.3L715.3 501.4L730.4 492.7L745.2 484.1L759.7 475.7L773.9 467.5L1100.0 467.5L1100.0 1100.0L-100.0 1100.0L-100.0 650.2Z" fill="#00ff3f"/><path d="M489.9 655.1L505.9 641.9L522.2 629.3L538.9 617.1L555.6 605.4L572.4 594.1L589.2 583.2L605.9 572.6L622.5 562.2L638.9 552.2L655.2 542.4L671.2 532.9L687.1 523.5L702.7 514.4L718.1 505.5L733.2 496.8L748.0 488.2L762.5 479.8L776.8 471.5L1100.0 471.5L1100.0 1100.0L-100.0 1100.0L-100.0 655.1Z" fill="#00ff79"/><path d="M493.1 660.1L509.0 646.8L525.3 634.0L541.9 621.8L558.5 610.0L575.3 598.7L592.0 587.7L608.7 577.0L625.2 566.6L641.7 556.5L657.9 546.7L674.0 537.1L689.8 527.7L705.4 518.6L720.8 509.6L735.9 500.8L750.8 492.2L765.3 483.8L779.6 475.5L1100.0 475.5L1100.0 1100.0L-100.0 1100.0L-100.0 660.1Z" fill="#00ffb4"/><path d="M496.4 665.1L512.2 651.6L528.4 638.8L544.8 626.5L561.4 614.7L578.1 603.2L594.8 592.2L611.5 581.4L628.0 571.0L644.4 560.9L660.6 551.0L676.7 541.4L692.5 531.9L708.1 522.8L723.5 513.8L738.7 504.9L753.5 496.3L768.1 487.8L782.5 479.5L1100.0 479.5L1100.0 1100.0L-100.0 1100.0L-100.0 665.1Z" fill="#00ffee"/><path d="M499.7 670.1L515.3 656.5L531.4 643.6L547.8 631.2L564.3 619.3L581.0 607.8L597.6 596.7L614.2 585.9L630.7 575.4L647.1 565.2L663.3 555.3L679.4 545.6L695.2 536.2L710.9 526.9L726.3 517.9L741.4 509.0L756.3 500.4L770.9 491.9L785.3 483.5L1100.0 483.5L1100.0 1100.0L-100.0 1100.0L-100.0 670.1Z" fill="#00f6ff"/><path d="M503.0 675.0L518.4 661.4L534.4 648.4L550.7 635.9L567.2 623.9L583.8 612.4L600.4 601.2L616.9 590.3L633.4 579.8L649.8 569.5L666.0 559.6L682.1 549.8L697.9 540.4L713.6 531.1L729.0 522.0L744.2 513.1L759.1 504.4L773.7 495.9L788.1 487.6L1100.0 487.6L1100.0 1100.0L-100.0 1100.0L-100.0 675.0Z" fill="#00e8ff"/><path d="M506.2 680.0L521.6 666.3L537.4 653.2L553.7 640.6L570.1 628.5L586.6 616.9L603.1 605.7L619.7 594.8L636.1 584.2L652.5 573.9L668.7 563.9L684.7 554.1L700.6 544.6L716.2 535.3L731.7 526.1L746.9 517.2L761.8 508.5L776.5 500.0L791.0 491.6L1100.0 491.6L1100.0 1100.0L-100.0 1100.0L-100.0 680.0Z" fill="#00dbff"/><path d="M509.5 685.0L524.7 671.1L540.5 657.9L556.6 645.3L572.9 633.2L589.4 621.5L605.9 610.2L622.4 599.2L638.8 588.6L655.2 578.2L671.4 568.2L687.4 558.3L703.3 548.8L718.9 539.4L734.4 530.3L749.6 521.3L764.6 512.6L779.3 504.0L793.8 495.6L1100.0 495.6L1100.0 1100.0L-100.0 1100.0L-100.0 685.0Z" fill="#00ceff"/><path d="M512.7 690.0L527.8 676.0L543.5 662.7L559.5 650.0L575.8 637.8L592.2 626.0L608.7 614.7L625.1 603.6L641.5 592.9L657.8 582.6L674.0 572.4L690.0 562.6L705.9 553.0L721.6 543.6L737.1 534.4L752.3 525.4L767.3 516.7L782.1 508.0L796.6 499.6L1100.0 499.6L1100.0 1100.0L-100.0 1100.0L-100.0 690.0Z" fill="#00c0ff"/><path d="M516.0 695.0L530.9 680.9L546.5 667.5L562.4 654.7L578.6 642.4L595.0 630.6L611.4 619.1L627.8 608.1L644.2 597.3L660.5 586.9L676.7 576.7L692.7 566.8L708.6 557.2L724.2 547.8L739.7 538.5L755.0 529.5L770.0 520.7L784.8 512.1L799.4 503.6L1100.0 503.6L1100.0 1100.0L-100.0 1100.0L-100.0 695.0Z" fill="#00b3ff"/><path d="M519.2 700.0L534.0 685.8L549.4 672.3L565.3 659.4L581.4 647.1L597.7 635.1L614.1 623.6L630.5 612.5L646.9 601.7L663.1 591.2L679.3 581.0L695.3 571.1L711.2 561.4L726.9 551.9L742.4 542.7L757.7 533.6L772.8 524.8L787.6 516.1L802.2 507.6L1100.0 507.6L1100.0 1100.0L-100.0 1100.0L-100.0 700.0Z" fill="#00a6ff"/><path d="M522.5 705.0L537.1 690.7L552.4 677.1L568.2 664.1L584.3 651.7L600.5 639.7L616.8 628.1L633.2 617.0L649.5 606.1L665.8 595.6L681.9 585.3L698.0 575.3L713.8 565.6L729.5 556.1L745.1 546.8L760.4 537.7L775.5 528.9L790.4 520.2L805.0 511.7L1100.0 511.7L1100.0 1100.0L-100.0 1100.0L-100.0 705.0Z" fill="#0098ff"/><path d="M525.7 710.0L540.2 695.6L555.4 681.9L571.1 668.8L587.1 656.3L603.2 644.3L619.5 632.6L635.9 621.4L652.2 610.5L668.4 599.9L684.5 589.6L700.6 579.6L716.4 569.8L732.2 560.3L747.7 551.0L763.0 541.8L778.2 532.9L793.1 524.2L807.8 515.7L1100.0 515.7L1100.0 1100.0L-100.0 1100.0L-100.0 710.0Z" fill="#0089ff"/><path d="M528.9 715.0L543.3 700.5L558.4 686.7L573.9 673.5L589.9 661.0L606.0 648.8L622.2 637.1L638.5 625.8L654.8 614.9L671.0 604.2L687.1 593.9L703.2 583.8L719.1 574.0L734.8 564.4L750.3 555.1L765.7 546.0L780.9 537.0L795.8 528.3L810.6 519.7L1100.0 519.7L1100.0 1100.0L-100.0 1100.0L-100.0 715.0Z" fill="#0078ff"/><path d="M532.1 720.0L546.3 705.3L561.3 691.5L576.8 678.3L592.7 665.6L608.7 653.4L624.9 641.6L641.2 630.3L657.4 619.3L673.6 608.6L689.7 598.2L705.8 588.1L721.6 578.2L737.4 568.6L753.0 559.2L768.4 550.1L783.6 541.1L798.5 532.3L813.3 523.7L1100.0 523.7L1100.0 1100.0L-100.0 1100.0L-100.0 720.0Z" fill="#0067ff"/><path d="M535.4 725.0L549.4 710.2L564.3 696.3L579.7 683.0L595.4 670.2L611.4 658.0L627.6 646.1L643.8 634.7L660.0 623.6L676.2 612.9L692.3 602.5L708.3 592.3L724.2 582.4L740.0 572.8L755.6 563.4L771.0 554.2L786.2 545.2L801.3 536.4L816.1 527.7L1100.0 527.7L1100.0 1100.0L-100.0 1100.0L-100.0 725.0Z" fill="#0056ff"/><path d="M538.6 730.0L552.5 715.1L567.2 701.1L582.5 687.7L598.2 674.8L614.2 662.5L630.3 650.6L646.4 639.1L662.6 628.0L678.8 617.2L694.9 606.8L710.9 596.6L726.8 586.6L742.6 576.9L758.2 567.5L773.6 558.3L788.9 549.2L804.0 540.4L818.9 531.8L1100.0 531.8L1100.0 1100.0L-100.0 1100.0L-100.0 730.0Z" fill="#0044ff"/><path d="M541.8 735.0L555.5 720.0L570.1 705.9L585.4 692.4L601.0 679.5L616.9 667.1L632.9 655.1L649.0 643.6L665.2 632.4L681.4 621.6L697.5 611.0L713.5 600.8L729.4 590.8L745.1 581.1L760.8 571.6L776.3 562.4L791.6 553.3L806.7 544.5L821.6 535.8L1100.0 535.8L1100.0 1100.0L-100.0 1100.0L-100.0 735.0Z" fill="#0033ff"/><path d="M545.0 740.0L558.6 724.9L573.1 710.7L588.2 697.1L603.7 684.1L619.5 671.6L635.6 659.6L651.7 648.0L667.8 636.8L683.9 625.9L700.0 615.3L716.0 605.1L731.9 595.0L747.7 585.3L763.4 575.8L778.9 566.5L794.2 557.4L809.4 548.5L824.4 539.8L1100.0 539.8L1100.0 1100.0L-100.0 1100.0L-100.0 740.0Z" fill="#0022ff"/><path d="M548.2 745.0L561.6 729.8L576.0 715.5L591.0 701.8L606.5 688.7L622.2 676.2L638.2 664.1L654.3 652.5L670.4 641.2L686.5 630.2L702.6 619.6L718.6 609.3L734.5 599.2L750.3 589.5L765.9 579.9L781.5 570.6L796.8 561.5L812.1 552.6L827.1 543.9L1100.0 543.9L1100.0 1100.0L-100.0 1100.0L-100.0 745.0Z" fill="#0010ff"/><path d="M549.1 746.6L564.6 734.7L578.9 720.3L593.8 706.5L609.2 693.4L624.9 680.8L640.8 668.6L656.8 656.9L672.9 645.6L689.0 634.6L705.1 623.9L721.1 613.5L737.0 603.5L752.8 593.6L768.5 584.0L784.1 574.7L799.5 565.5L814.7 556.6L829.8 547.9L1100.0 547.9L1100.0 1100.0L-100.0 1100.0L-100.0 746.6Z" fill="#0100ff"/><path d="M549.1 746.6L567.7 739.6L581.8 725.1L596.6 711.2L611.9 698.0L627.6 685.3L643.4 673.1L659.4 661.3L675.5 649.9L691.6 638.9L707.6 628.2L723.6 617.8L739.5 607.7L755.4 597.8L771.1 588.2L786.7 578.8L802.1 569.6L817.4 560.7L832.5 551.9L1100.0 551.9L1100.0 1100.0L-100.0 1100.0L-100.0 746.6Z" fill="#1100ff"/><path d="M549.1 746.6L570.7 744.6L584.7 729.9L599.4 715.9L614.7 702.6L630.2 689.9L646.0 677.6L662.0 665.8L678.0 654.3L694.1 643.2L710.1 632.5L726.1 622.0L742.1 611.9L757.9 602.0L773.6 592.3L789.2 582.9L804.7 573.7L820.0 564.7L835.2 556.0L1100.0 556.0L1100.0 1100.0L-100.0 1100.0L-100.0 746.6Z" fill="#2100ff"/><path d="M549.1 746.6L572.6 747.7L587.6 734.7L602.2 720.7L617.4 707.3L632.9 694.5L648.6 682.1L664.6 670.2L680.6 658.7L696.6 647.6L712.6 636.8L728.6 626.3L744.6 616.1L760.4 606.1L776.2 596.4L791.8 587.0L807.3 577.8L822.7 568.8L838.0 560.0L1100.0 560.0L1100.0 1100.0L-100.0 1100.0L-100.0 746.6Z" fill="#3100ff"/><path d="M549.1 746.6L572.6 747.7L590.5 739.5L605.0 725.4L620.1 711.9L635.5 699.0L651.2 686.6L667.1 674.7L683.1 663.1L699.1 651.9L715.1 641.1L731.1 630.5L747.1 620.3L762.9 610.3L778.7 600.6L794.3 591.1L809.9 581.9L825.3 572.8L840.7 564.0L1100.0 564.0L1100.0 1100.0L-100.0 1100.0L-100.0 746.6Z" fill="#4100ff"/><path d="M549.1 746.6L572.6 747.7L593.3 744.3L607.8 730.1L622.8 716.6L638.1 703.6L653.8 691.1L669.6 679.1L685.6 667.5L701.6 656.2L717.6 645.3L733.6 634.8L749.5 624.5L765.4 614.5L781.2 604.7L796.9 595.2L812.5 585.9L828.0 576.9L843.3 568.1L1100.0 568.1L1100.0 1100.0L-100.0 1100.0L-100.0 746.6Z" fill="#5200ff"/><path d="M549.1 746.6L572.6 747.7L595.5 748.0L610.5 734.8L625.4 721.2L640.8 708.1L656.4 695.6L672.2 683.5L688.1 671.9L704.1 660.6L720.1 649.6L736.1 639.0L752.0 628.7L767.9 618.6L783.7 608.9L799.4 599.3L815.1 590.0L830.6 581.0L846.0 572.1L1100.0 572.1L1100.0 1100.0L-100.0 1100.0L-100.0 746.6Z" fill="#6200ff"/><path d="M549.1 746.6L572.6 747.7L595.5 748.0L613.3 739.5L628.1 725.8L643.4 712.7L658.9 700.1L674.7 688.0L690.6 676.2L706.5 664.9L722.5 653.9L738.5 643.3L754.5 632.9L770.4 622.8L786.2 613.0L802.0 603.4L817.6 594.1L833.2 585.0L848.7 576.1L1100.0 576.1L1100.0 1100.0L-100.0 1100.0L-100.0 746.6Z" fill="#7200ff"/><path d="M549.1 746.6L572.6 747.7L595.5 748.0L616.0 744.2L630.8 730.5L646.0 717.3L661.5 704.6L677.2 692.4L693.1 680.6L709.0 669.2L725.0 658.2L741.0 647.5L756.9 637.1L772.8 627.0L788.7 617.1L804.5 607.5L820.2 598.2L835.8 589.1L851.4 580.2L1100.0 580.2L1100.0 1100.0L-100.0 1100.0L-100.0 746.6Z" fill="#8000fd"/><path d="M549.1 746.6L572.6 747.7L595.5 748.0L618.0 747.6L633.4 735.1L648.6 721.8L664.0 709.1L679.7 696.8L695.5 685.0L711.5 673.6L727.4 662.5L743.4 651.7L759.4 641.3L775.3 631.1L791.2 621.3L807.0 611.6L822.7 602.3L838.4 593.1L854.0 584.2L1100.0 584.2L1100.0 1100.0L-100.0 1100.0L-100.0 746.6Z" fill="#7f00f1"/><path d="M549.1 746.6L572.6 747.7L595.5 748.0L618.0 747.6L636.1 739.7L651.2 726.4L666.6 713.6L682.2 701.3L698.0 689.4L713.9 677.9L729.9 666.8L745.8 656.0L761.8 645.5L777.8 635.3L793.6 625.4L809.5 615.7L825.3 606.3L841.0 597.2L856.7 588.2L1100.0 588.2L1100.0 1100.0L-100.0 1100.0L-100.0 746.6Z" fill="#7e00e4"/><path d="M549.1 746.6L572.6 747.7L595.5 748.0L618.0 747.6L638.7 744.4L653.7 731.0L669.1 718.1L684.7 705.7L700.5 693.8L716.3 682.2L732.3 671.1L748.3 660.2L764.2 649.7L780.2 639.5L796.1 629.5L812.0 619.9L827.8 610.4L843.6 601.2L859.3 592.3L1100.0 592.3L1100.0 1100.0L-100.0 1100.0L-100.0 746.6Z" fill="#7e00d8"/><path d="M549.1 746.6L572.6 747.7L595.5 748.0L618.0 747.6L639.9 746.5L656.3 735.5L671.6 722.6L687.2 710.2L702.9 698.2L718.8 686.6L734.7 675.3L750.7 664.5L766.7 653.9L782.6 643.6L798.6 633.7L814.5 624.0L830.3 614.5L846.1 605.3L861.9 596.3L1100.0 596.3L1100.0 1100.0L-100.0 1100.0L-100.0 746.6Z" fill="#7d00cb"/><path d="M549.1 746.6L572.6 747.7L595.5 748.0L618.0 747.6L639.9 746.5L658.9 740.1L674.1 727.1L689.6 714.6L705.3 702.5L721.2 690.9L737.1 679.6L753.1 668.7L769.1 658.1L785.0 647.8L801.0 637.8L816.9 628.1L832.8 618.6L848.7 609.4L864.6 600.4L1100.0 600.4L1100.0 1100.0L-100.0 1100.0L-100.0 746.6Z" fill="#7c00bf"/><path d="M549.1 746.6L572.6 747.7L595.5 748.0L618.0 747.6L639.9 746.5L661.4 744.6L676.6 731.6L692.1 719.0L707.8 706.9L723.6 695.2L739.5 683.9L755.5 672.9L771.5 662.3L787.4 652.0L803.4 641.9L819.4 632.2L835.3 622.7L851.3 613.4L867.2 604.4L1100.0 604.4L1100.0 1100.0L-100.0 1100.0L-100.0 746.6Z" fill="#7b00b2"/><path d="M549.1 746.6L572.6 747.7L595.5 748.0L618.0 747.6L639.9 746.5L661.4 744.7L679.1 736.1L694.5 723.5L710.2 711.3L726.0 699.6L741.9 688.2L757.9 677.2L773.8 666.5L789.8 656.1L805.9 646.1L821.8 636.3L837.8 626.7L853.8 617.5L869.8 608.4L1100.0 608.4L1100.0 1100.0L-100.0 1100.0L-100.0 746.6Z" fill="#7b00a6"/><path d="M549.1 746.6L572.6 747.7L595.5 748.0L618.0 747.6L639.9 746.5L661.4 744.7L681.6 740.6L697.0 727.9L712.6 715.7L728.4 703.9L744.3 692.5L760.2 681.4L776.2 670.7L792.2 660.3L808.3 650.2L824.3 640.4L840.3 630.8L856.3 621.5L872.4 612.5L1100.0 612.5L1100.0 1100.0L-100.0 1100.0L-100.0 746.6Z" fill="#7a0099"/><path d="M549.1 746.6L572.6 747.7L595.5 748.0L618.0 747.6L639.9 746.5L661.4 744.7L682.5 742.2L699.4 732.3L715.0 720.1L730.8 708.2L746.6 696.8L762.6 685.7L778.6 674.9L794.6 664.5L810.7 654.3L826.7 644.5L842.8 634.9L858.9 625.6L875.0 616.5L1100.0 616.5L1100.0 1100.0L-100.0 1100.0L-100.0 746.6Z" fill="#79008d"/><path d="M549.1 746.6L572.6 747.7L595.5 748.0L618.0 747.6L639.9 746.5L661.4 744.7L682.5 742.2L701.8 736.8L717.4 724.4L733.1 712.5L749.0 701.0L764.9 689.9L780.9 679.1L797.0 668.6L813.1 658.5L829.1 648.6L845.2 639.0L861.4 629.6L877.5 620.6L1100.0 620.6L1100.0 1100.0L-100.0 1100.0L-100.0 746.6Z" fill="#780080"/></g>
<line x1="483" y1="614.3" x2="608" y2="614.3" stroke="#fff" stroke-opacity=".7" stroke-width="1"/>
<g><polyline points="90.4,71.5 114.8,688.4 569.7,864.9 931.0,662.8" class="a" fill="none"/><line x1="114.8" y1="688.4" x2="127.3" y2="688.4" class="a"/><line x1="112.5" y1="630.1" x2="125.0" y2="630.1" class="a"/><line x1="110.2" y1="571.1" x2="122.7" y2="571.1" class="a"/><line x1="107.8" y1="511.3" x2="120.3" y2="511.3" class="a"/><line x1="105.4" y1="450.8" x2="117.9" y2="450.8" class="a"/><line x1="103.0" y1="389.6" x2="115.5" y2="389.6" class="a"/><line x1="100.5" y1="327.6" x2="113.0" y2="327.6" class="a"/><line x1="98.1" y1="264.8" x2="110.6" y2="264.8" class="a"/><line x1="95.6" y1="201.2" x2="108.1" y2="201.2" class="a"/><line x1="93.0" y1="136.7" x2="105.5" y2="136.7" class="a"/><line x1="90.4" y1="71.5" x2="102.9" y2="71.5" class="a"/><line x1="190.2" y1="717.7" x2="190.2" y2="704.7" class="t"/><line x1="269.8" y1="748.6" x2="269.8" y2="735.6" class="t"/><line x1="353.9" y1="781.2" x2="353.9" y2="768.2" class="t"/><line x1="442.8" y1="815.7" x2="442.8" y2="802.7" class="t"/><line x1="537.1" y1="852.2" x2="537.1" y2="839.2" class="t"/><line x1="616.6" y1="838.7" x2="616.6" y2="825.7" class="t"/><line x1="704.6" y1="789.5" x2="704.6" y2="776.5" class="t"/><line x1="785.9" y1="744.0" x2="785.9" y2="731.0" class="t"/><line x1="861.1" y1="701.9" x2="861.1" y2="688.9" class="t"/></g>
<g><circle cx="173.4" cy="195.7" r="9.3" fill="url(#sg)"/><circle cx="288.9" cy="342.6" r="9.3" fill="url(#sg)"/><circle cx="409.6" cy="517.1" r="9.3" fill="url(#sg)"/><circle cx="537.5" cy="687.2" r="10.0" fill="url(#sg)"/><circle cx="479.9" cy="319.1" r="8.1" fill="url(#sg)"/><circle cx="595.7" cy="479.6" r="8.5" fill="url(#sg)"/><circle cx="715.6" cy="677.6" r="8.8" fill="url(#sg)"/><circle cx="536.7" cy="168.1" r="7.5" fill="url(#sg)"/><circle cx="642.9" cy="312.6" r="7.2" fill="url(#sg)"/><circle cx="753.3" cy="464.5" r="7.6" fill="url(#sg)"/><circle cx="868.1" cy="629.4" r="7.8" fill="url(#sg)"/><ellipse cx="370" cy="188.3" rx="6.2" ry="4.2" transform="rotate(24 370 188.3)" fill="url(#sg)"/></g>
<g><text x="100.3" y="697.7" text-anchor="end" class="n">0.82</text><text x="98.0" y="639.4" text-anchor="end" class="n">0.84</text><text x="95.7" y="580.4" text-anchor="end" class="n">0.86</text><text x="93.3" y="520.6" text-anchor="end" class="n">0.88</text><text x="90.9" y="460.1" text-anchor="end" class="n">0.90</text><text x="88.5" y="398.9" text-anchor="end" class="n">0.92</text><text x="86.0" y="336.9" text-anchor="end" class="n">0.94</text><text x="83.6" y="274.1" text-anchor="end" class="n">0.96</text><text x="81.1" y="210.5" text-anchor="end" class="n">0.98</text><text x="78.5" y="146.0" text-anchor="end" class="n">1.00</text><text x="75.9" y="80.8" text-anchor="end" class="n">1.02</text><text x="115.1" y="727.7" text-anchor="middle" class="n">0</text><text x="190.5" y="758.1" text-anchor="middle" class="n">3</text><text x="270.1" y="789.0" text-anchor="middle" class="n">6</text><text x="354.2" y="821.6" text-anchor="middle" class="n">9</text><text x="443.1" y="856.1" text-anchor="middle" class="n">12</text><text x="537.4" y="892.6" text-anchor="middle" class="n">15</text><text x="616.5" y="881.7" text-anchor="middle" class="n">0.52</text><text x="703.8" y="832.2" text-anchor="middle" class="n">0.56</text><text x="786.0" y="784.2" text-anchor="middle" class="n">0.60</text><text x="861.0" y="741.9" text-anchor="middle" class="n">0.64</text><text x="930.0" y="701.2" text-anchor="middle" class="n">0.68</text><text x="1" y="387" class="P">P</text><text x="24" y="397" class="w">w</text><text transform="translate(98.4 768.2) rotate(20.6)" class="ti" textLength="415" lengthAdjust="spacingAndGlyphs">Freeze-thaw cycles /frequency</text><text transform="translate(762 825) rotate(-29.4)" text-anchor="middle" class="ti" y="10">ω /%</text><circle cx="681.4" cy="80.4" r="11.3" fill="url(#sgl)"/><rect x="634.2" y="110.9" width="97.2" height="32.9" fill="url(#cb)"/><text x="765" y="87.4" class="lg">Test value</text><text x="766.5" y="141.9" class="lg">Fit model</text></g>
</svg>
</body></html>
